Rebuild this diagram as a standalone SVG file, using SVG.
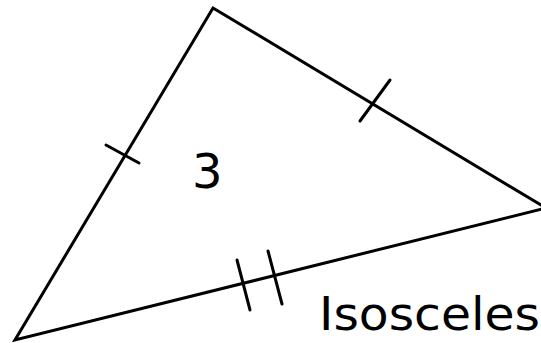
<svg xmlns="http://www.w3.org/2000/svg" width="541" height="343" viewBox="0 0 541 343">
<style>
.edge{fill:none;stroke:#000;stroke-width:3;stroke-linejoin:miter;stroke-miterlimit:10}
.tick{stroke:#000;stroke-width:3;stroke-linecap:round}
.lbl{font-family:"DejaVu Sans","Liberation Sans",sans-serif;fill:#000}
</style>
<rect width="541" height="343" fill="#fff"/>
<g id="triangle">
<polygon class="edge" points="213,8 546,208 15,340"/>
</g>
<g id="ticks">
<line class="tick" x1="106" y1="145" x2="139" y2="163"/>
<line class="tick" x1="360" y1="121" x2="390" y2="80"/>
<line class="tick" x1="237" y1="260" x2="250" y2="310"/>
<line class="tick" x1="268" y1="251" x2="282" y2="304"/>
</g>
<g id="labels">
<text class="lbl" x="192" y="188" font-size="48">3</text>
<text class="lbl" x="319" y="330" font-size="46" textLength="221" lengthAdjust="spacingAndGlyphs">Isosceles</text>
</g>
</svg>
